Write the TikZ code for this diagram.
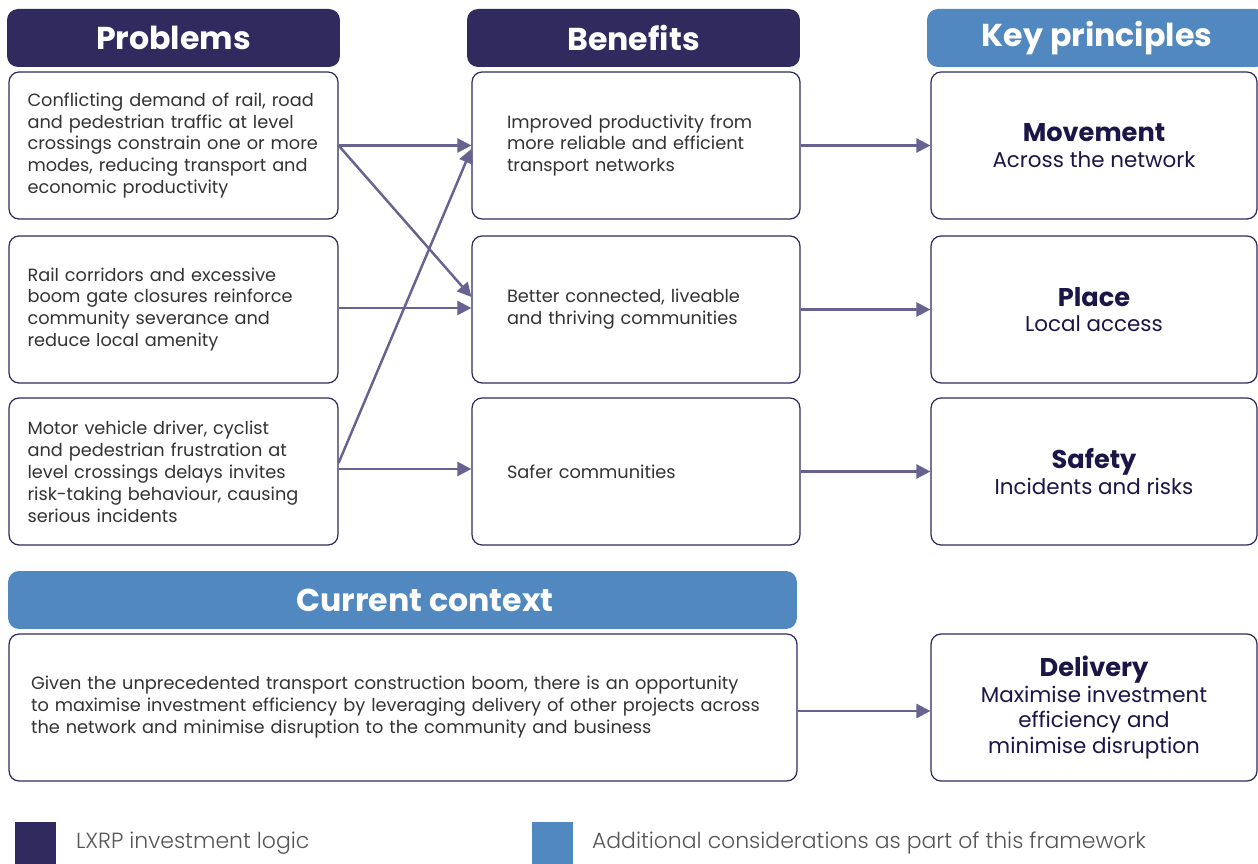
\documentclass[tikz,border=0pt]{standalone}
\usepackage{fontspec}
\setmainfont{Poppins}
\newfontfamily\lightfont{Poppins Light}
\usetikzlibrary{arrows.meta,positioning}

\definecolor{navy}{HTML}{312A5E}
\definecolor{kpblue}{HTML}{5088BF}
\definecolor{edgeline}{HTML}{2E2A5C}
\definecolor{flowline}{HTML}{67628F}
\definecolor{bodytext}{HTML}{333333}
\definecolor{keytext}{HTML}{1B1548}
\definecolor{legendtext}{HTML}{555555}

\newcommand{\keytitle}[1]{{\fontsize{14.6}{14.5}\selectfont\bfseries #1}}

\tikzset{
  header/.style={rounded corners=0.22cm, text=white, inner sep=0pt,
    font=\fontsize{18}{22}\selectfont\bfseries, minimum height=1.16cm},
  darkhead/.style={header, fill=navy},
  lighthead/.style={header, fill=kpblue},
  card/.style={draw=edgeline, line width=0.7pt, rounded corners=0.2cm,
    fill=white, minimum height=2.94cm, inner sep=0pt},
  cardtext/.style={card, align=left, text=bodytext,
    font=\fontsize{10.1}{12.5}\selectfont},
  keycard/.style={card, align=center, text=keytext, minimum width=6.52cm,
    font=\fontsize{12.2}{14.5}\selectfont},
  flowarrow/.style={draw=flowline, line width=1.4pt,
    -{Triangle[length=0.28cm,width=0.28cm]}},
  legendbox/.style={minimum width=0.82cm, minimum height=0.84cm, inner sep=0pt},
  legendlabel/.style={text=legendtext, inner sep=0pt, font=\lightfont\fontsize{12.5}{14}\selectfont}
}

\begin{document}
\begin{tikzpicture}[x=0.02cm, y=-0.02cm]
    \useasboundingbox (0,0) rectangle (1258,864);

    % Column headers
    \node[darkhead, minimum width=6.66cm] (probhead) at (173.5,38) {Problems};
    \node[darkhead, minimum width=6.66cm] (benhead) at (633.5,38) {Benefits};
    \node[lighthead, minimum width=6.8cm] (keyhead) at (1097,38) {Key principles};

    % Problems
    \node[cardtext, minimum width=6.58cm, text width=5.84cm] (p1) at (173.5,145.5)
        {Conflicting demand of rail, road\\and pedestrian traffic at level\\crossings constrain one or more\\modes, reducing transport and\\economic productivity};
    \node[cardtext, minimum width=6.58cm, text width=5.84cm] (p2) at (173.5,309.5)
        {Rail corridors and excessive\\boom gate closures reinforce\\community severance and\\reduce local amenity};
    \node[cardtext, minimum width=6.58cm, text width=5.84cm] (p3) at (173.5,471.5)
        {Motor vehicle driver, cyclist\\and pedestrian frustration at\\level crossings delays invites\\risk-taking behaviour, causing\\serious incidents};

    % Benefits
    \node[cardtext, minimum width=6.56cm, text width=5.16cm] (b1) at (636,145.5)
        {Improved productivity from\\more reliable and efficient\\transport networks};
    \node[cardtext, minimum width=6.56cm, text width=5.16cm] (b2) at (636,309.5)
        {Better connected, liveable\\and thriving communities};
    \node[cardtext, minimum width=6.56cm, text width=5.16cm] (b3) at (636,471.5)
        {Safer communities};

    % Key principles
    \node[keycard] (k1) at (1094,145.5) {\keytitle{Movement}\\Across the network};
    \node[keycard] (k2) at (1094,309.5) {\keytitle{Place}\\Local access};
    \node[keycard] (k3) at (1094,471.5) {\keytitle{Safety}\\Incidents and risks};

    % Current context
    \node[lighthead, minimum width=15.78cm] (ctxhead) at (402.5,600) {\hspace*{0.9cm}Current context};
    \node[cardtext, minimum width=15.76cm, text width=14.88cm] (ctx) at (403,707.5)
        {Given the unprecedented transport construction boom, there is an opportunity\\to maximise investment efficiency by leveraging delivery of other projects across\\the network and minimise disruption to the community and business};
    \node[keycard] (k4) at (1094,707.5)
        {\keytitle{Delivery}\\Maximise investment\\efficiency and\\minimise disruption};

    % Problems to benefits
    \draw[flowarrow] (p1.east) -- (b1.west);
    \draw[flowarrow] (p1.east) -- ([yshift=0.25cm]b2.west);
    \draw[flowarrow] ([yshift=0.03cm]p2.east) -- ([yshift=0.03cm]b2.west);
    \draw[flowarrow] ([yshift=0.17cm]p3.east) -- ([yshift=-0.07cm]b1.west);
    \draw[flowarrow] ([yshift=0.05cm]p3.east) -- ([yshift=0.05cm]b3.west);

    % Benefits to principles
    \draw[flowarrow] (b1.east) -- (k1.west);
    \draw[flowarrow] (b2.east) -- (k2.west);
    \draw[flowarrow] (b3.east) -- (k3.west);
    \draw[flowarrow] ([yshift=-0.07cm]ctx.east) -- ([yshift=-0.07cm]k4.west);

    % Legend
    \node[legendbox, fill=navy, anchor=north west] (logicsq) at (15,822) {};
    \node[legendlabel, right=0.38cm of logicsq] (logictext) {LXRP investment logic};
    \node[legendbox, fill=kpblue, anchor=north west] (extrasq) at (532,822) {};
    \node[legendlabel, right=0.36cm of extrasq] (extratext) {Additional considerations as part of this framework};
\end{tikzpicture}
\end{document}
